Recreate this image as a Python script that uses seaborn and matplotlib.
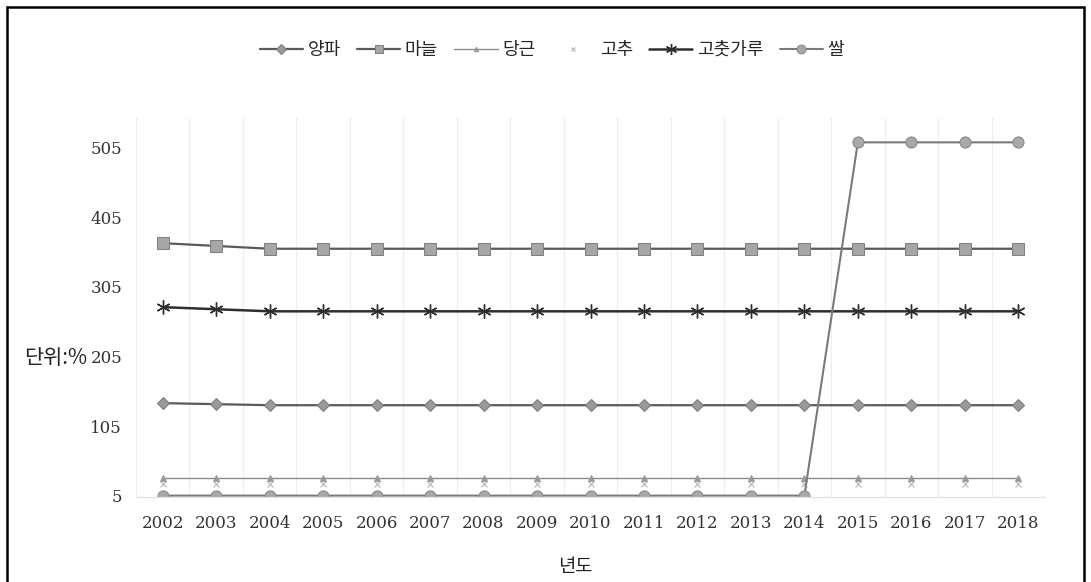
import matplotlib
matplotlib.use("Agg")
import matplotlib.pyplot as plt
from matplotlib.patches import Rectangle
from matplotlib.ticker import FixedLocator
import seaborn as sns
import pandas as pd

# Tariff rates by year (%)
years = list(range(2002, 2019))
onion = [138, 136.5] + [135] * 15
garlic = [368, 364] + [360] * 15
carrot = [30] * 17
pepper = [22] * 17
chili_powder = [276, 273] + [270] * 15
rice = [5] * 13 + [513] * 4

names = ["양파", "마늘", "당근", "고추", "고춧가루", "쌀"]
series = [onion, garlic, carrot, pepper, chili_powder, rice]
yticks = [5, 105, 205, 305, 405, 505]

df = pd.concat(
    [pd.DataFrame({"연도": years, "값": vals, "품목": name}) for name, vals in zip(names, series)],
    ignore_index=True,
)

sns.set_theme(style="white")
plt.rcParams["font.family"] = ["Noto Sans CJK KR", "DejaVu Sans"]

fig = plt.figure(figsize=(10.91, 5.82), dpi=100)
W, H = 1091, 582
ax = fig.add_axes([136 / W, 1 - 497 / H, (1045 - 136) / W, (497 - 118) / H])

styles = {
    "양파": dict(marker="D", markersize=6.5, color="#5a5a5a", mfc="#9a9a9a", mec="#7a7a7a", lw=1.6),
    "마늘": dict(marker="s", markersize=8, color="#5a5a5a", mfc="#a6a6a6", mec="#808080", lw=1.6),
    "당근": dict(marker="^", markersize=4, color="#8c8c8c", mfc="#9a9a9a", mec="#9a9a9a", lw=1.0),
    "고추": dict(marker="x", markersize=4, color="#c4c4c4", mfc="#c4c4c4", mec="#b4b4b4", lw=0, linestyle="None", mew=0.8),
    "고춧가루": dict(marker=(6, 2, 0), markersize=10, color="#2e2e2e", mfc="#2e2e2e", mec="#2e2e2e", lw=1.8, mew=1.0),
    "쌀": dict(marker="o", markersize=8, color="#7a7a7a", mfc="#a8a8a8", mec="#888888", lw=1.5),
}

for name in names:
    st = dict(styles[name])
    sns.lineplot(
        data=df[df["품목"] == name], x="연도", y="값", ax=ax, label=name,
        marker=st.pop("marker"), markersize=st.pop("markersize"), color=st.pop("color"),
        markerfacecolor=st.pop("mfc"), markeredgecolor=st.pop("mec"),
        linewidth=st.pop("lw"), **st,
    )

ax.set_xlim(2001.5, 2018.5)
ax.set_ylim(3, 548)
ax.set_xticks(years)
ax.set_xticklabels([str(y) for y in years])
ax.set_yticks(yticks)
ax.xaxis.set_minor_locator(FixedLocator([y - 0.5 for y in years] + [2018.5]))
ax.grid(False)
ax.grid(axis="x", which="minor", color="#eeeeee", linewidth=0.9)
ax.tick_params(axis="both", which="both", length=0)
ax.tick_params(axis="x", pad=13)
ax.tick_params(axis="y", pad=10)
for lab in ax.get_xticklabels() + ax.get_yticklabels():
    lab.set_family("DejaVu Serif")
    lab.set_fontsize(12)
    lab.set_color("#333333")

for side in ["top", "right", "left"]:
    ax.spines[side].set_visible(False)
ax.spines["bottom"].set_color("#e2e2e2")
ax.spines["bottom"].set_linewidth(0.9)

ax.set_xlabel("년도", fontsize=13.5, color="#222222")
ax.xaxis.set_label_coords((575 - 136) / (1045 - 136), -(556 - 497) / (497 - 118))
ax.set_ylabel("단위:%", fontsize=15, color="#222222", rotation=0, va="center", ha="center")
ax.yaxis.set_label_coords((56 - 136) / (1045 - 136), (497 - 358) / (497 - 118))

handles, labels = ax.get_legend_handles_labels()
ax.get_legend().remove()
fig.legend(
    handles, labels, loc="center", bbox_to_anchor=(552 / W, 1 - 50 / H),
    ncol=6, frameon=False, fontsize=13, handlelength=2.4, handletextpad=0.25,
    columnspacing=0.9, markerscale=0.8,
)

fig.patches.append(
    Rectangle((7 / W, -0.02), (1084 - 7) / W, 1.02 - 7 / H, transform=fig.transFigure,
              fill=False, edgecolor="black", linewidth=1.8)
)

fig.savefig("out.png", dpi=100)
